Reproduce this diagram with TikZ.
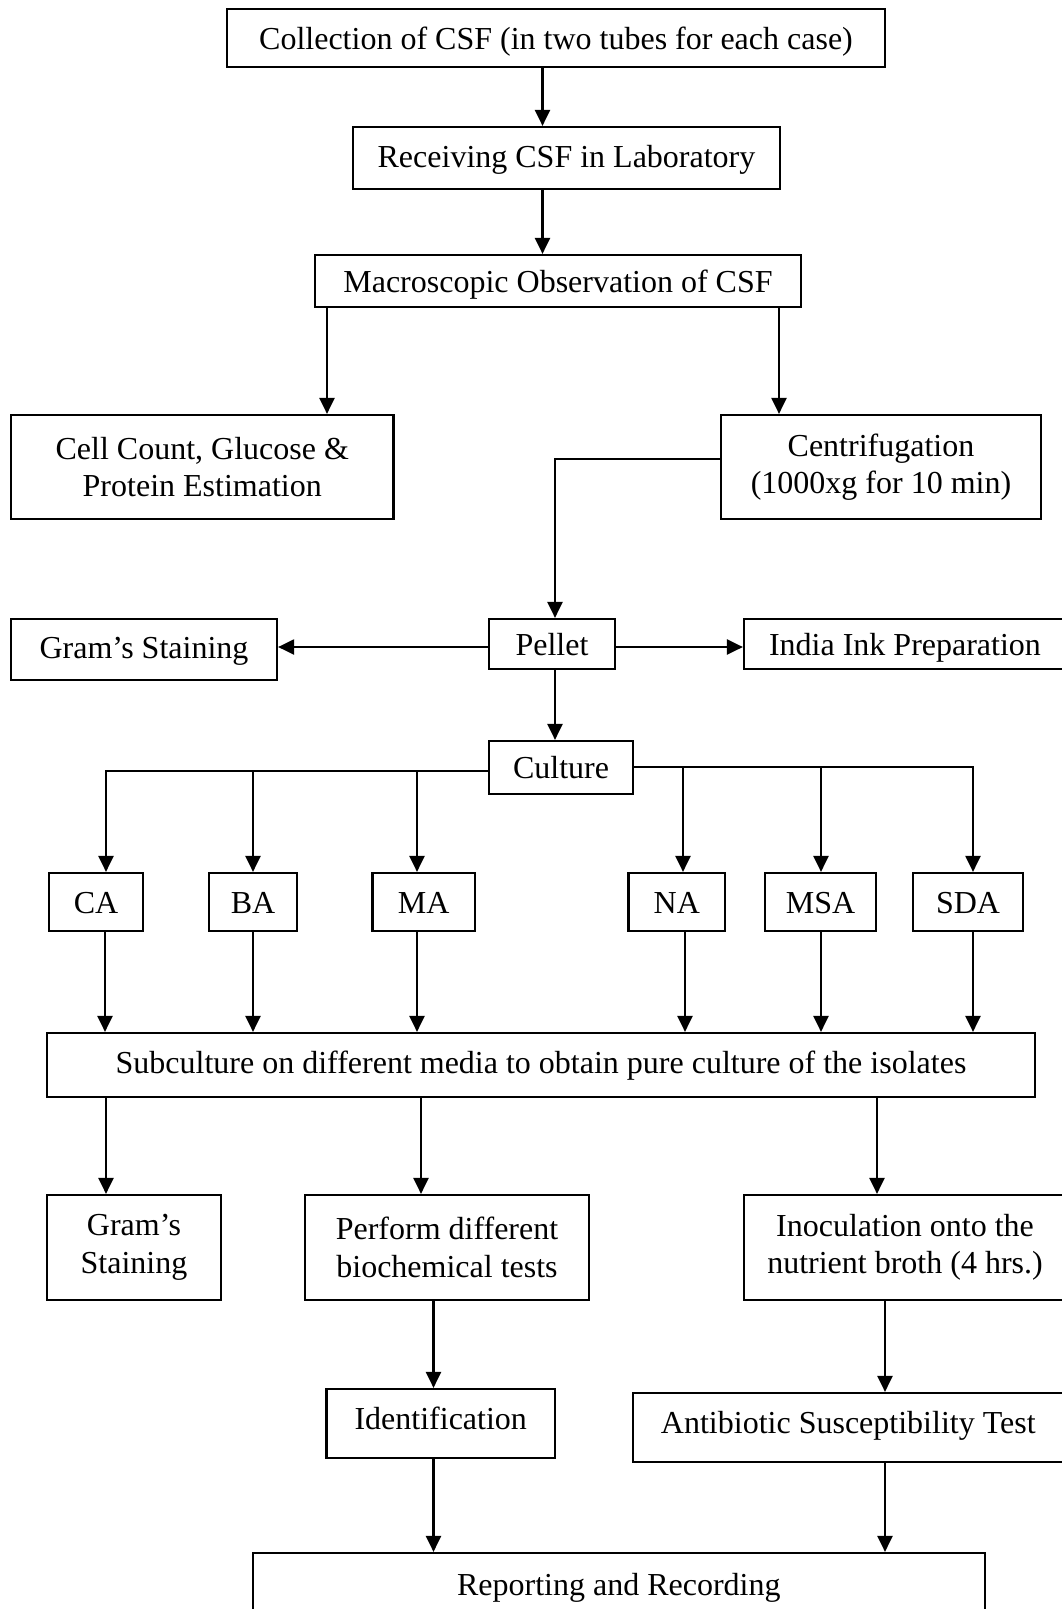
\documentclass[tikz,border=0pt]{standalone}
\usepackage{fontspec}
\setmainfont{Liberation Serif}
\usetikzlibrary{arrows.meta}
\begin{document}
\begin{tikzpicture}[x=1pt,y=-1pt,
  box/.style={draw,line width=2.2pt,rectangle,inner sep=0pt,align=center},
  one/.style={box,text height=22pt,text depth=0pt},
  arr/.style={line width=2.2pt,-{Triangle[length=16pt,width=15pt]}},
  font=\fontsize{32}{37.5}\selectfont]
\useasboundingbox[fill=white] (0,0) rectangle (1062,1609);

% boxes
\node[one,minimum width=658,minimum height=58] (coll) at (556,38) {Collection of CSF (in two tubes for each case)};
\node[one,text depth=4pt,minimum width=427,minimum height=62] (recv) at (566.5,158) {Receiving CSF in Laboratory};
\node[one,text depth=-4pt,minimum width=486,minimum height=52] (macro) at (558,281) {Macroscopic Observation of CSF};
\node[box,minimum width=382.5,minimum height=104] (cell) at (202.25,467) {Cell Count, Glucose \&\\Protein Estimation};
\node[box,minimum width=320,minimum height=104] (centr) at (881,467) {Centrifugation\\(1000xg for 10 min)};
\node[one,text depth=5pt,minimum width=266,minimum height=61] (gramA) at (144,649.5) {Gram’s Staining};
\node[one,text depth=-6pt,minimum width=126,minimum height=50] (pellet) at (552,644) {Pellet};
\node[one,text depth=-6pt,minimum width=322,minimum height=50] (india) at (905,644) {India Ink Preparation};
\node[one,text depth=-3pt,minimum width=144,minimum height=53] (cult) at (561,767.5) {Culture};
\node[one,minimum width=94,minimum height=58] (ca) at (96,902) {CA};
\node[one,minimum width=88,minimum height=58] (ba) at (253,902) {BA};
\node[one,minimum width=102.5,minimum height=58] (ma) at (423.75,902) {MA};
\node[one,minimum width=96.5,minimum height=58] (na) at (676.75,902) {NA};
\node[one,minimum width=111,minimum height=58] (msa) at (820.5,902) {MSA};
\node[one,minimum width=110,minimum height=58] (sda) at (968,902) {SDA};
\node[one,text depth=6pt,minimum width=988,minimum height=64] (sub) at (541,1065) {Subculture on different media to obtain pure culture of the isolates};
\node[box,minimum width=174,minimum height=105] (gramB) at (134,1247.5) {Gram’s\\Staining};
\node[box,minimum width=284,minimum height=105] (perf) at (447,1247.5) {Perform different\\biochemical tests};
\node[box,minimum width=322,minimum height=105] (inoc) at (905,1247.5) {Inoculation onto the\\nutrient broth (4 hrs.)};
\node[one,text depth=11pt,minimum width=228.5,minimum height=69] (ident) at (440.75,1423.5) {Identification};
\node[one,text depth=11pt,minimum width=431.4,minimum height=69] (anti) at (848.3,1427.5) {Antibiotic Susceptibility Test};
\node[one,minimum width=732.4,minimum height=62] (rep) at (618.8,1584) {Reporting and Recording};

% alignment coordinates
\coordinate (xA) at (542.5,0);
\coordinate (xL) at (327,0);
\coordinate (xR) at (779,0);
\coordinate (yC) at (0,459);
\coordinate (xP) at (555,0);
\coordinate (yP) at (0,647);
\coordinate (yCl) at (0,771);
\coordinate (yCr) at (0,767);
\coordinate (jba) at (253,771);
\coordinate (jma) at (417,771);
\coordinate (jna) at (683,767);
\coordinate (jmsa) at (821,767);
\coordinate (xca) at (106,0);
\coordinate (xsda) at (973,0);
\coordinate (x1) at (105,0);
\coordinate (x2) at (253,0);
\coordinate (x3) at (417,0);
\coordinate (x4) at (685,0);
\coordinate (x5) at (821,0);
\coordinate (x6) at (973,0);
\coordinate (s1) at (106,0);
\coordinate (s2) at (421,0);
\coordinate (s3) at (877,0);
\coordinate (xI) at (433.5,0);
\coordinate (xT) at (885,0);

% connectors
\draw[arr] (coll.south -| xA) -- (recv.north -| xA);
\draw[arr] (recv.south -| xA) -- (macro.north -| xA);
\draw[arr] (macro.south -| xL) -- (cell.north -| xL);
\draw[arr] (macro.south -| xR) -- (centr.north -| xR);
\draw[arr] (centr.west |- yC) -| (pellet.north -| xP);
\draw[arr] (pellet.west |- yP) -- (gramA.east |- yP);
\draw[arr] (pellet.east |- yP) -- (india.west |- yP);
\draw[arr] (pellet.south -| xP) -- (cult.north -| xP);
\draw[arr] (cult.west |- yCl) -| (ca.north -| xca);
\draw[arr] (jba) -- (ba.north -| jba);
\draw[arr] (jma) -- (ma.north -| jma);
\draw[arr] (cult.east |- yCr) -| (sda.north -| xsda);
\draw[arr] (jna) -- (na.north -| jna);
\draw[arr] (jmsa) -- (msa.north -| jmsa);
\draw[arr] (ca.south -| x1) -- (sub.north -| x1);
\draw[arr] (ba.south -| x2) -- (sub.north -| x2);
\draw[arr] (ma.south -| x3) -- (sub.north -| x3);
\draw[arr] (na.south -| x4) -- (sub.north -| x4);
\draw[arr] (msa.south -| x5) -- (sub.north -| x5);
\draw[arr] (sda.south -| x6) -- (sub.north -| x6);
\draw[arr] (sub.south -| s1) -- (gramB.north -| s1);
\draw[arr] (sub.south -| s2) -- (perf.north -| s2);
\draw[arr] (sub.south -| s3) -- (inoc.north -| s3);
\draw[arr] (perf.south -| xI) -- (ident.north -| xI);
\draw[arr] (inoc.south -| xT) -- (anti.north -| xT);
\draw[arr] (ident.south -| xI) -- (rep.north -| xI);
\draw[arr] (anti.south -| xT) -- (rep.north -| xT);
\end{tikzpicture}
\end{document}
